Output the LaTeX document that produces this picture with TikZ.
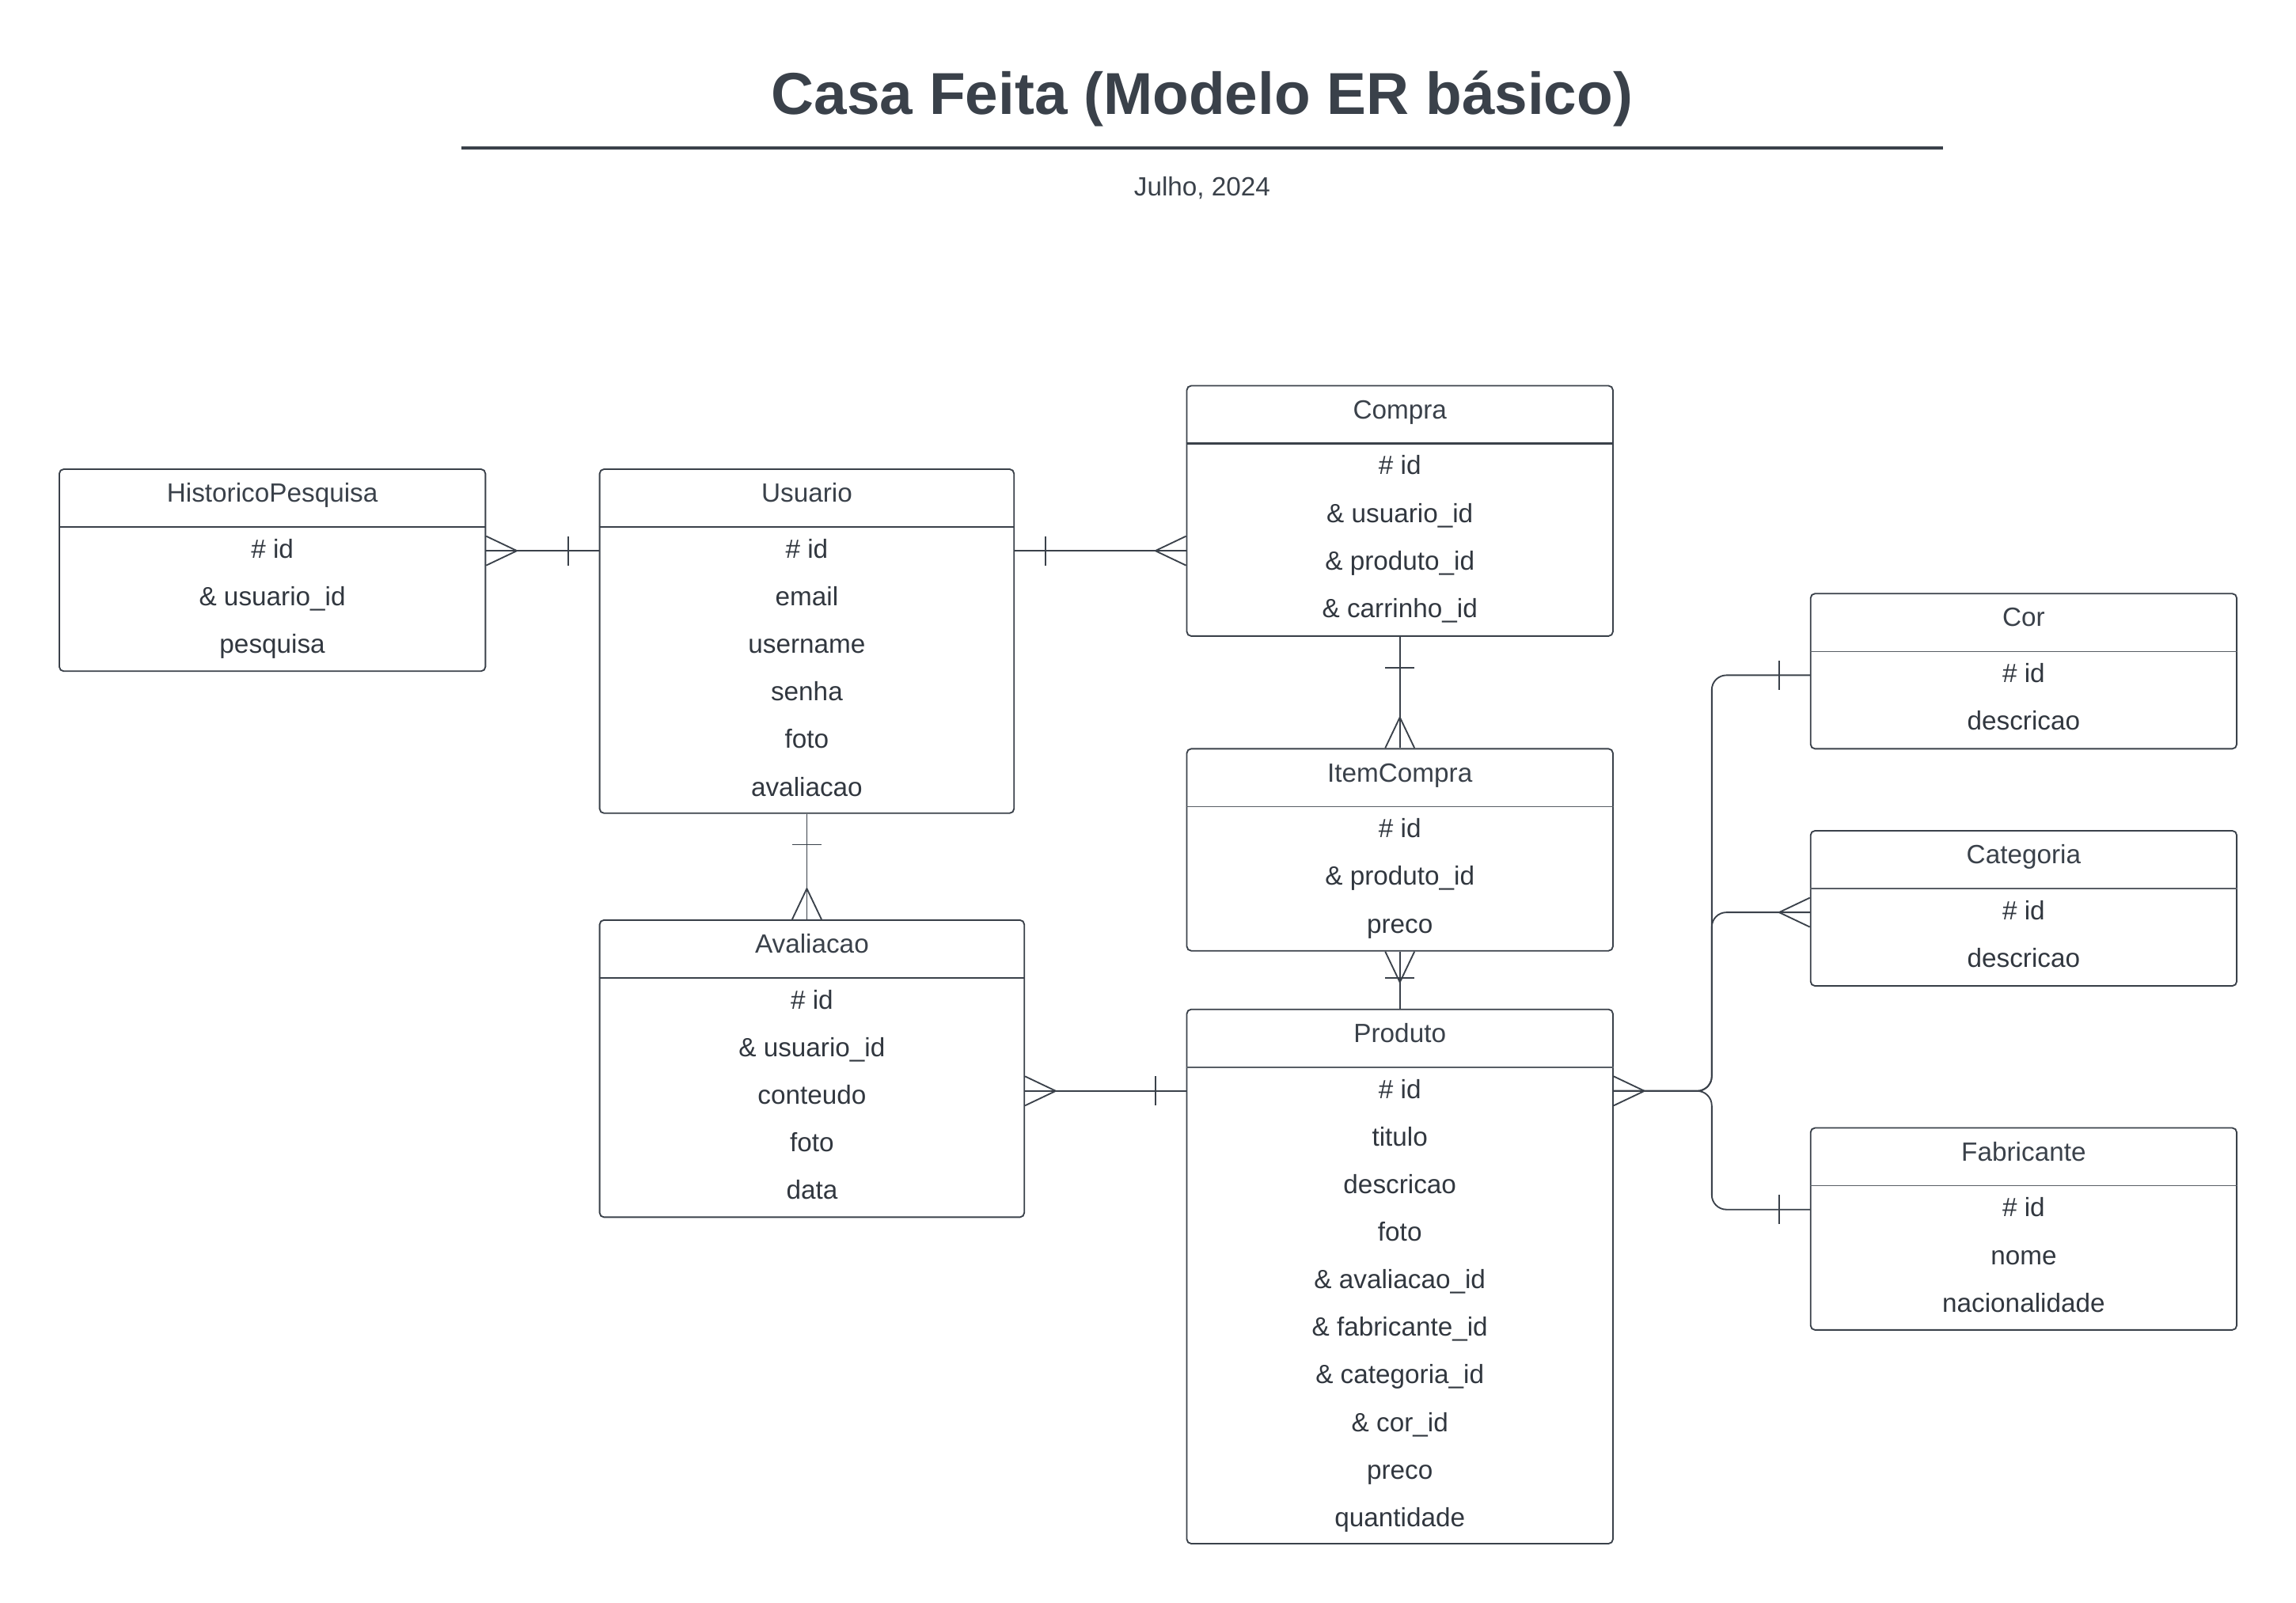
\documentclass[tikz,border=0pt]{standalone}
\usepackage{fontspec}
\setmainfont{Liberation Sans}
\usetikzlibrary{positioning,calc}
\definecolor{tinta}{HTML}{3A414A}

\begin{document}
\begin{tikzpicture}[x=0.5pt,y=-0.5pt,
  entbox/.style={draw=tinta, line width=0.5pt, rounded corners=1.5pt, anchor=north west, inner sep=0pt},
  titulo/.style={text=tinta, font=\fontsize{9}{11}\selectfont, text height=7pt, text depth=2pt, inner sep=0pt},
  campo/.style={text=tinta!85!black, font=\fontsize{9}{11}\selectfont, text height=7pt, text depth=2pt, inner sep=0pt},
  sepgrossa/.style={draw=tinta, line width=0.7pt},
  sepfina/.style={draw=tinta!85, line width=0.45pt},
  link/.style={draw=tinta, line width=0.5pt},
  crow/.pic={\draw[link] (0,-10) -- (21,0) -- (0,10);},
  umbar/.pic={\draw[link] (21,-10) -- (21,10);}]
\useasboundingbox (0,0) rectangle (1568,1094.6);
% titulo
\node[text=tinta, font=\bfseries\fontsize{20.2}{24}\selectfont, text height=15pt, text depth=4pt] (tit) at (821,67) {Casa Feita (Modelo ER básico)};
\draw[tinta, line width=1.1pt] (315,101) -- (1327,101);
\node[titulo] (data) at (821,129) {Julho, 2024};
% HistoricoPesquisa
\node[entbox, minimum width=145.5pt, minimum height=69pt] (hist) at (40,320) {};
\node[titulo] (hist-t) at ($(hist.north)+(0,18)$) {HistoricoPesquisa};
\draw[sepgrossa] ($(hist.north west)+(0,40)$) -- ($(hist.north east)+(0,40)$);
\foreach \t [count=\i] in {\# id, \& usuario\_id, pesquisa}
  \node[campo] (hist\i) at ($(hist.north)+(0,{40+(\i-0.5)*32.5})$) {\t};
% Usuario
\node[entbox, minimum width=141.5pt, minimum height=117.5pt] (usu) at (409,320) {};
\node[titulo] (usu-t) at ($(usu.north)+(0,18)$) {Usuario};
\draw[sepgrossa] ($(usu.north west)+(0,40)$) -- ($(usu.north east)+(0,40)$);
\foreach \t [count=\i] in {\# id, email, username, senha, foto, avaliacao}
  \node[campo] (usu\i) at ($(usu.north)+(0,{40+(\i-0.5)*32.5})$) {\t};
% Compra
\node[entbox, minimum width=145.5pt, minimum height=85.5pt] (com) at (810,263) {};
\node[titulo] (com-t) at ($(com.north)+(0,18)$) {Compra};
\draw[sepgrossa] ($(com.north west)+(0,40)$) -- ($(com.north east)+(0,40)$);
\foreach \t [count=\i] in {\# id, \& usuario\_id, \& produto\_id, \& carrinho\_id}
  \node[campo] (com\i) at ($(com.north)+(0,{40+(\i-0.5)*32.5})$) {\t};
% ItemCompra
\node[entbox, minimum width=145.5pt, minimum height=69pt] (item) at (810,511) {};
\node[titulo] (item-t) at ($(item.north)+(0,18)$) {ItemCompra};
\draw[sepfina] ($(item.north west)+(0,40)$) -- ($(item.north east)+(0,40)$);
\foreach \t [count=\i] in {\# id, \& produto\_id, preco}
  \node[campo] (item\i) at ($(item.north)+(0,{40+(\i-0.5)*32.5})$) {\t};
% Avaliacao
\node[entbox, minimum width=145pt, minimum height=101.5pt] (ava) at (409,628) {};
\node[titulo] (ava-t) at ($(ava.north)+(0,18)$) {Avaliacao};
\draw[sepgrossa] ($(ava.north west)+(0,40)$) -- ($(ava.north east)+(0,40)$);
\foreach \t [count=\i] in {\# id, \& usuario\_id, conteudo, foto, data}
  \node[campo] (ava\i) at ($(ava.north)+(0,{40+(\i-0.5)*32.5})$) {\t};
% Produto
\node[entbox, minimum width=145.5pt, minimum height=182.5pt] (prod) at (810,689) {};
\node[titulo] (prod-t) at ($(prod.north)+(0,18)$) {Produto};
\draw[sepfina] ($(prod.north west)+(0,40)$) -- ($(prod.north east)+(0,40)$);
\foreach \t [count=\i] in {\# id, titulo, descricao, foto, \& avaliacao\_id, \& fabricante\_id, \& categoria\_id, \& cor\_id, preco, quantidade}
  \node[campo] (prod\i) at ($(prod.north)+(0,{40+(\i-0.5)*32.5})$) {\t};
% Cor
\node[entbox, minimum width=145.5pt, minimum height=53pt] (cor) at (1236,405) {};
\node[titulo] (cor-t) at ($(cor.north)+(0,18)$) {Cor};
\draw[sepfina] ($(cor.north west)+(0,40)$) -- ($(cor.north east)+(0,40)$);
\foreach \t [count=\i] in {\# id, descricao}
  \node[campo] (cor\i) at ($(cor.north)+(0,{40+(\i-0.5)*32.5})$) {\t};
% Categoria
\node[entbox, minimum width=145.5pt, minimum height=53pt] (cat) at (1236,567) {};
\node[titulo] (cat-t) at ($(cat.north)+(0,18)$) {Categoria};
\draw[sepfina] ($(cat.north west)+(0,40)$) -- ($(cat.north east)+(0,40)$);
\foreach \t [count=\i] in {\# id, descricao}
  \node[campo] (cat\i) at ($(cat.north)+(0,{40+(\i-0.5)*32.5})$) {\t};
% Fabricante
\node[entbox, minimum width=145.5pt, minimum height=69pt] (fab) at (1236,770) {};
\node[titulo] (fab-t) at ($(fab.north)+(0,18)$) {Fabricante};
\draw[sepfina] ($(fab.north west)+(0,40)$) -- ($(fab.north east)+(0,40)$);
\foreach \t [count=\i] in {\# id, nome, nacionalidade}
  \node[campo] (fab\i) at ($(fab.north)+(0,{40+(\i-0.5)*32.5})$) {\t};
% relacoes
\draw[link] (hist.east |- usu1) -- (usu.west |- usu1);
\pic at (hist.east |- usu1) {crow};
\pic[rotate=180] at (usu.west |- usu1) {umbar};
\draw[link] (usu.east |- usu1) -- (com.west |- usu1);
\pic at (usu.east |- usu1) {umbar};
\pic[rotate=180] at (com.west |- usu1) {crow};
\draw[link] (com.south) -- (item.north);
\pic[rotate=-90] at (com.south) {umbar};
\pic[rotate=90] at (item.north) {crow};
\draw[link] (usu.south) -- (usu.south |- ava.north);
\pic[rotate=-90] at (usu.south) {umbar};
\pic[rotate=90] at (usu.south |- ava.north) {crow};
\draw[link] (item.south) -- (prod.north);
\pic[rotate=-90] at (item.south) {crow};
\pic[rotate=90] at (prod.north) {umbar};
\draw[link] (ava.east |- prod1) -- (prod.west |- prod1);
\pic at (ava.east |- prod1) {crow};
\pic[rotate=180] at (prod.west |- prod1) {umbar};
\coordinate (tronco) at ($(prod.east |- prod1)+(67,0)$);
\draw[link, rounded corners=5pt] (prod.east |- prod1) -- (tronco) |- (cor.west |- cor1);
\draw[link, rounded corners=5pt] (prod.east |- prod1) -- (tronco) |- (cat.west |- cat1);
\draw[link, rounded corners=5pt] (prod.east |- prod1) -- (tronco) |- (fab.west |- fab1);
\pic at (prod.east |- prod1) {crow};
\pic[rotate=180] at (cor.west |- cor1) {umbar};
\pic[rotate=180] at (cat.west |- cat1) {crow};
\pic[rotate=180] at (fab.west |- fab1) {umbar};
\end{tikzpicture}
\end{document}
